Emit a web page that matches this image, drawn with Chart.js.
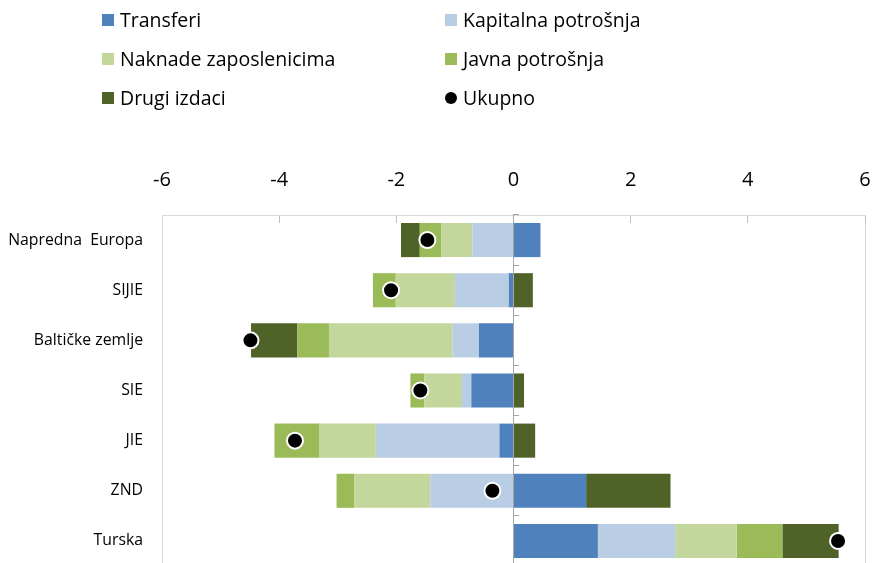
<!DOCTYPE html>
<html>
<head>
<meta charset="utf-8">
<script src="https://cdn.jsdelivr.net/npm/chart.js@4.4.0/dist/chart.umd.min.js"></script>
<style>
  body { margin: 0; background: #fff; overflow: hidden; font-family: "Open Sans", sans-serif; }
  #wrap { position: relative; width: 873px; height: 570px; }
  #legend { position: absolute; left: 0; top: 0; width: 873px; height: 120px; }
  .item { position: absolute; font-size: 19.5px; line-height: 24px; color: #000; white-space: nowrap; }
  .mark { position: absolute; left: 0; top: 6px; width: 12px; height: 12px; }
  .mark.dot { border-radius: 50%; }
  .item .t { margin-left: 18px; }
</style>
</head>
<body>
<div id="wrap">
  <canvas id="myChart"></canvas>
  <div id="legend"></div>
</div>
<script>
const labels = ['Napredna  Europa', 'SIJIE', 'Baltičke zemlje', 'SIE', 'JIE', 'ZND', 'Turska']
const transferi = [0.46, -0.08, -0.59, -0.72, -0.24, 1.24, 1.44]
const kapitalna = [-0.70, -0.92, -0.45, -0.16, -2.11, -1.42, 1.32]
const naknade = [-0.53, -1.01, -2.11, -0.64, -0.97, -1.30, 1.05]
const javna = [-0.37, -0.39, -0.54, -0.24, -0.76, -0.30, 0.78]
const drugi = [-0.32, 0.33, -0.79, 0.18, 0.37, 1.44, 0.96]
const ukupno = [-1.47, -2.09, -4.49, -1.59, -3.73, -0.36, 5.54]
const xTicks = [-6, -4, -2, 0, 2, 4, 6]

;(() => {
  'use strict'

  const bar = (label, data, color) => ({
    type: 'bar',
    label: label,
    data: data,
    backgroundColor: color,
    borderWidth: 0,
    barPercentage: 0.68,
    categoryPercentage: 1
  })

  const ctx = document.getElementById('myChart')
  const chart = new Chart(ctx, {
    data: {
      labels: labels,
      datasets: [
        bar('Transferi', transferi, '#4F81BD'),
        bar('Kapitalna potrošnja', kapitalna, '#B9CDE5'),
        bar('Naknade zaposlenicima', naknade, '#C3D69B'),
        bar('Javna potrošnja', javna, '#9BBB59'),
        bar('Drugi izdaci', drugi, '#4F6228'),
        {
          type: 'line',
          label: 'Ukupno',
          data: ukupno,
          indexAxis: 'y',
          stack: 'total',
          showLine: false,
          order: -1,
          backgroundColor: '#000',
          borderColor: '#000',
          pointRadius: 8,
          pointHoverRadius: 8,
          pointBackgroundColor: '#000',
          pointBorderColor: '#fff',
          pointBorderWidth: 2
        }
      ]
    },
    options: {
      indexAxis: 'y',
      responsive: true,
      maintainAspectRatio: false,
      animation: false,
      layout: { autoPadding: false, padding: { left: 0, right: 8, top: 0, bottom: 4 } },
      scales: {
        x: {
          position: 'top',
          stacked: true,
          min: -6,
          max: 6,
          afterBuildTicks: s => { s.ticks = xTicks.map(v => ({ value: v })) },
          afterFit: s => {
            s.height = 215
            s.paddingLeft = 0
            s.paddingRight = 0
          },
          ticks: {
            padding: 31,
            color: '#000',
            font: { family: '"Open Sans", sans-serif', size: 20 }
          },
          grid: {
            drawTicks: true,
            tickLength: -8,
            tickColor: '#BFBFBF',
            color: c => (c.tick && c.tick.value === 6 ? '#D9D9D9' : 'rgba(0,0,0,0)')
          },
          border: { display: true, color: '#D9D9D9' }
        },
        y: {
          position: 'left',
          stacked: true,
          afterFit: s => {
            s.width = 162
            s.paddingTop = 0
            s.paddingBottom = 0
          },
          ticks: {
            padding: 19,
            color: '#000',
            font: { family: '"Open Sans", sans-serif', size: 15.8 }
          },
          grid: { display: false, drawTicks: false },
          border: { display: true, color: '#D9D9D9' }
        },
        y2: {
          axis: 'y',
          type: 'category',
          position: { x: 0 },
          offset: true,
          afterFit: s => {
            s.width = 0
            s.paddingTop = 0
            s.paddingBottom = 0
          },
          ticks: { display: false, padding: 0 },
          grid: {
            offset: true,
            drawOnChartArea: false,
            drawTicks: true,
            tickLength: -6,
            tickColor: '#A6A6A6'
          },
          border: { display: true, color: '#A6A6A6' }
        }
      },
      plugins: {
        legend: { display: false },
        tooltip: { enabled: false }
      }
    }
  })

  // legend in two columns, like the original
  const legend = document.getElementById('legend')
  const colX = [102, 445]
  const rowY = [8, 47, 86]
  chart.data.datasets.forEach((ds, i) => {
    const item = document.createElement('div')
    item.className = 'item'
    item.style.left = colX[i % 2] + 'px'
    item.style.top = rowY[Math.floor(i / 2)] + 'px'
    const mark = document.createElement('span')
    mark.className = ds.type === 'line' ? 'mark dot' : 'mark'
    mark.style.background = ds.backgroundColor
    const t = document.createElement('span')
    t.className = 't'
    t.textContent = ds.label
    item.appendChild(mark)
    item.appendChild(t)
    legend.appendChild(item)
  })
})()
</script>
</body>
</html>
